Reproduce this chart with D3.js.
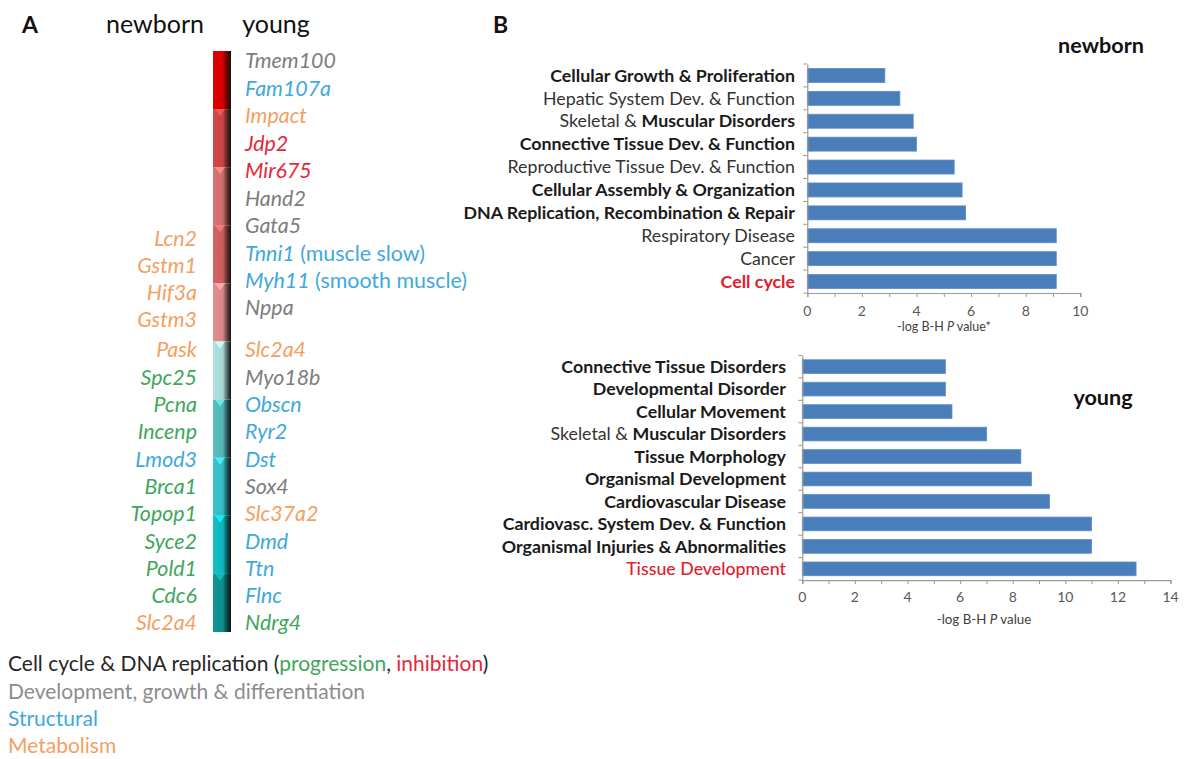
<!DOCTYPE html>
<html>
<head>
<meta charset="utf-8">
<script src="https://cdn.jsdelivr.net/npm/d3@7"></script>
<style>
  html, body { margin: 0; padding: 0; background: #ffffff; }
  svg { display: block; font-family: Lato, "Open Sans", sans-serif; }
</style>
</head>
<body>
<svg id="fig" width="1188" height="759"></svg>
<script>
// ---- Panel A: expression shift bar and gene lists ----
const heatColors = ["#d40000", "#c84444", "#cf6d6d", "#c95e5e", "#d68787",
                    "#a6d7d3", "#53b4b5", "#36bac2", "#10b6bd", "#0f8d8e"];

const youngGenes  = ["Tmem100", "Fam107a", "Impact", "Jdp2", "Mir675", "Hand2", "Gata5", "Tnni1", "Myh11", "Nppa",
                     "Slc2a4", "Myo18b", "Obscn", "Ryr2", "Dst", "Sox4", "Slc37a2", "Dmd", "Ttn", "Flnc", "Ndrg4"];
const youngGroups = ["dev", "struct", "metab", "inhib", "inhib", "dev", "dev", "struct", "struct", "dev",
                     "metab", "dev", "struct", "struct", "struct", "dev", "metab", "struct", "struct", "struct", "prog"];
const youngNotes  = ["", "", "", "", "", "", "", " (muscle slow)", " (smooth muscle)", "",
                     "", "", "", "", "", "", "", "", "", "", ""];

const newbornGenes  = ["Lcn2", "Gstm1", "Hif3a", "Gstm3", "Pask", "Spc25", "Pcna", "Incenp", "Lmod3",
                       "Brca1", "Topop1", "Syce2", "Pold1", "Cdc6", "Slc2a4"];
const newbornGroups = ["metab", "metab", "metab", "metab", "metab", "prog", "prog", "prog", "struct",
                       "prog", "prog", "prog", "prog", "prog", "metab"];

const legendLines = ["Cell cycle & DNA replication", "Development, growth & differentiation", "Structural", "Metabolism"];

// ---- Panel B: enriched functions ----
const newbornCategories = ["Cellular Growth & Proliferation", "Hepatic System Dev. & Function",
  "Skeletal & Muscular Disorders", "Connective Tissue Dev. & Function", "Reproductive Tissue Dev. & Function",
  "Cellular Assembly & Organization", "DNA Replication, Recombination & Repair", "Respiratory Disease",
  "Cancer", "Cell cycle"];
const newbornValues = [2.84, 3.39, 3.88, 4.0, 5.38, 5.67, 5.80, 9.12, 9.12, 9.12];
const newbornStyles = ["bold", "normal", "mixed", "bold", "normal", "bold", "bold", "normal", "normal", "highlight"];
const newbornTicks = [0, 2, 4, 6, 8, 10];

const youngCategories = ["Connective Tissue Disorders", "Developmental Disorder", "Cellular Movement",
  "Skeletal & Muscular Disorders", "Tissue Morphology", "Organismal Development", "Cardiovascular Disease",
  "Cardiovasc. System Dev. & Function", "Organismal Injuries & Abnormalities", "Tissue Development"];
const youngValues = [5.44, 5.44, 5.69, 7.01, 8.31, 8.71, 9.40, 11.0, 11.0, 12.69];
const youngStyles = ["bold", "bold", "bold", "mixed", "bold", "bold", "bold", "bold", "bold", "highlightLight"];
const youngTicks = [0, 2, 4, 6, 8, 10, 12, 14];

const groupColor = {
  dev: "#7d7d7d", struct: "#3fa8dd", metab: "#f4a064", inhib: "#e6283c", prog: "#3fa65c"
};

const svg = d3.select("#fig");

// Panel letters and column headers
svg.append("text").attr("x", 22).attr("y", 33).attr("font-size", 23).attr("font-weight", 700)
   .attr("fill", "#111").text("A");
svg.append("text").attr("x", 493).attr("y", 33).attr("font-size", 23).attr("font-weight", 700)
   .attr("fill", "#111").text("B");
svg.append("text").attr("x", 155).attr("y", 33).attr("font-size", 25).attr("text-anchor", "middle")
   .attr("fill", "#111").text("newborn");
svg.append("text").attr("x", 276).attr("y", 33).attr("font-size", 25).attr("text-anchor", "middle")
   .attr("fill", "#111").text("young");

// ---- heat bar ----
const defs = svg.append("defs");
heatColors.forEach((c, i) => {
  const g = defs.append("linearGradient").attr("id", "seg" + i).attr("x1", "0").attr("x2", "1").attr("y1", "0").attr("y2", "0");
  g.append("stop").attr("offset", "0%").attr("stop-color", d3.color(c).brighter(0.15));
  g.append("stop").attr("offset", "55%").attr("stop-color", c);
  g.append("stop").attr("offset", "72%").attr("stop-color", d3.color(c).darker(1.4));
  g.append("stop").attr("offset", "100%").attr("stop-color", "#111");
});

const heatY = d3.scaleBand().domain(d3.range(heatColors.length)).range([51, 632]).padding(0);
const heatX0 = 213, heatW = 18;
const heat = svg.append("g");
heat.selectAll("rect").data(heatColors).join("rect")
  .attr("x", heatX0).attr("y", (d, i) => heatY(i))
  .attr("width", heatW).attr("height", heatY.bandwidth())
  .attr("fill", (d, i) => `url(#seg${i})`);
// small notch marks at the start of each level
heat.selectAll("path").data(heatColors.slice(1)).join("path")
  .attr("d", (d, i) => {
    const y = heatY(i + 1), cx = heatX0 + 7;
    return `M${cx - 5},${y} L${cx + 5},${y} L${cx},${y + 7} Z`;
  })
  .attr("fill", d => d3.color(d).brighter(0.9))
  .attr("opacity", 0.75);

// ---- gene labels ----
const rightTop = d3.scalePoint().domain(d3.range(10)).range([61, 308]);
const rightBottom = d3.scalePoint().domain(d3.range(10, 21)).range([350, 623]);
const leftTop = d3.scalePoint().domain(d3.range(4)).range([239, 320]);
const leftBottom = d3.scalePoint().domain(d3.range(4, 15)).range([350, 623]);

const rightY = i => i < 10 ? rightTop(i) : rightBottom(i);
const leftY = i => i < 4 ? leftTop(i) : leftBottom(i);

const right = svg.append("g").attr("font-size", 21.4);
youngGenes.forEach((g, i) => {
  const t = right.append("text").attr("x", 245).attr("y", rightY(i)).attr("dy", "0.35em")
    .attr("fill", groupColor[youngGroups[i]]);
  t.append("tspan").attr("font-style", "italic").text(g);
  if (youngNotes[i]) t.append("tspan").text(youngNotes[i]);
});

const left = svg.append("g").attr("font-size", 21.4).attr("text-anchor", "end");
newbornGenes.forEach((g, i) => {
  left.append("text").attr("x", 197).attr("y", leftY(i)).attr("dy", "0.35em")
    .attr("font-style", "italic").attr("fill", groupColor[newbornGroups[i]]).text(g);
});

// ---- legend ----
const legend = svg.append("g").attr("font-size", 21);
const legY = d3.scalePoint().domain(d3.range(4)).range([664, 746]);
const l0 = legend.append("text").attr("x", 8).attr("y", legY(0)).attr("dy", "0.35em").attr("fill", "#262626");
l0.append("tspan").text(legendLines[0] + " (");
l0.append("tspan").attr("fill", groupColor.prog).text("progression");
l0.append("tspan").text(", ");
l0.append("tspan").attr("fill", groupColor.inhib).text("inhibition");
l0.append("tspan").text(")");
legend.append("text").attr("x", 8).attr("y", legY(1)).attr("dy", "0.35em").attr("fill", "#8c8c8c").text(legendLines[1]);
legend.append("text").attr("x", 8).attr("y", legY(2)).attr("dy", "0.35em").attr("fill", groupColor.struct).text(legendLines[2]);
legend.append("text").attr("x", 8).attr("y", legY(3)).attr("dy", "0.35em").attr("fill", groupColor.metab).text(legendLines[3]);

// ---- bar charts ----
function barChart(opts) {
  const { cats, vals, styles, ticks, xMax, xRange, yRange, labelRight, title, titleX, titleY,
          axisTitle, axisTitleX, axisTitleY, axisTitleSize, star, tickLabelY } = opts;
  const g = svg.append("g");
  const x = d3.scaleLinear().domain([0, xMax]).range(xRange);
  const y = d3.scaleBand().domain(cats).range(yRange).paddingInner(0.39).paddingOuter(0.195);

  g.selectAll("rect.bar").data(cats).join("rect").attr("class", "bar")
    .attr("x", x(0)).attr("y", d => y(d))
    .attr("width", (d, i) => x(vals[i]) - x(0)).attr("height", y.bandwidth())
    .attr("fill", "#4a7ebb").attr("stroke", "#5b8cc8").attr("stroke-width", 0.8);

  // value axis
  const xAxis = d3.axisBottom(x).tickValues(d3.range(0, xMax + 1)).tickSize(4).tickFormat("");
  const ax = g.append("g").attr("transform", `translate(0,${yRange[1]})`).call(xAxis);
  ax.select(".domain").attr("stroke", "#9a9a9a").attr("stroke-width", 1.2);
  ax.selectAll(".tick line").attr("stroke", "#9a9a9a");
  g.selectAll("text.tk").data(ticks).join("text").attr("class", "tk")
    .attr("x", d => x(d)).attr("y", tickLabelY).attr("dy", "0.35em")
    .attr("text-anchor", "middle").attr("font-size", 14).attr("fill", "#595959").text(d => d);

  // category axis
  const yAxis = d3.axisLeft(y).tickSize(0).tickFormat("");
  const ay = g.append("g").attr("transform", `translate(${x(0)},0)`).call(yAxis);
  ay.select(".domain").attr("stroke", "#9a9a9a").attr("stroke-width", 1.2);
  const bounds = d3.range(cats.length + 1).map(i => yRange[0] + i * y.step());
  g.selectAll("line.yt").data(bounds).join("line").attr("class", "yt")
    .attr("x1", x(0) - 4).attr("x2", x(0)).attr("y1", d => d).attr("y2", d => d)
    .attr("stroke", "#b08a8a").attr("stroke-width", 1);

  // category labels
  cats.forEach((c, i) => {
    const t = g.append("text").attr("x", labelRight).attr("y", y(c) + y.bandwidth() / 2)
      .attr("dy", "0.35em").attr("text-anchor", "end").attr("font-size", 17.8).attr("fill", "#1a1a1a");
    const s = styles[i];
    if (s === "mixed") {
      const cut = c.indexOf("& ") + 2;
      t.append("tspan").attr("fill", "#333").text(c.slice(0, cut));
      t.append("tspan").attr("font-weight", 700).text(c.slice(cut));
    } else if (s === "bold") {
      t.attr("font-weight", 700).text(c);
    } else if (s === "highlight") {
      t.attr("font-weight", 700).attr("fill", "#e0202c").text(c);
    } else if (s === "highlightLight") {
      t.attr("font-weight", 500).attr("fill", "#e0202c").text(c);
    } else {
      t.attr("fill", "#333").text(c);
    }
  });

  // chart title
  g.append("text").attr("x", titleX).attr("y", titleY).attr("dy", "0.35em").attr("text-anchor", "middle")
    .attr("font-size", 21.6).attr("font-weight", 700).attr("fill", "#111").text(title);

  // axis title
  const at = g.append("text").attr("x", axisTitleX).attr("y", axisTitleY).attr("dy", "0.35em")
    .attr("text-anchor", "middle").attr("font-size", axisTitleSize).attr("fill", "#404040");
  at.append("tspan").text(axisTitle[0]);
  at.append("tspan").attr("font-style", "italic").text(axisTitle[1]);
  at.append("tspan").text(axisTitle[2] + (star ? "*" : ""));
}

barChart({
  cats: newbornCategories, vals: newbornValues, styles: newbornStyles, ticks: newbornTicks, xMax: 10,
  xRange: [807.3, 1080.3], yRange: [64, 293], labelRight: 795,
  title: "newborn", titleX: 1101, titleY: 45,
  axisTitle: ["-log B-H ", "P", " value"], axisTitleX: 944, axisTitleY: 327, axisTitleSize: 12.5,
  star: true, tickLabelY: 311
});

barChart({
  cats: youngCategories, vals: youngValues, styles: youngStyles, ticks: youngTicks, xMax: 14,
  xRange: [802.3, 1170.5], yRange: [355.4, 580.1], labelRight: 786,
  title: "young", titleX: 1103, titleY: 397,
  axisTitle: ["-log B-H ", "P", " value"], axisTitleX: 984, axisTitleY: 619, axisTitleSize: 13.3,
  star: false, tickLabelY: 597
});
</script>
</body>
</html>
